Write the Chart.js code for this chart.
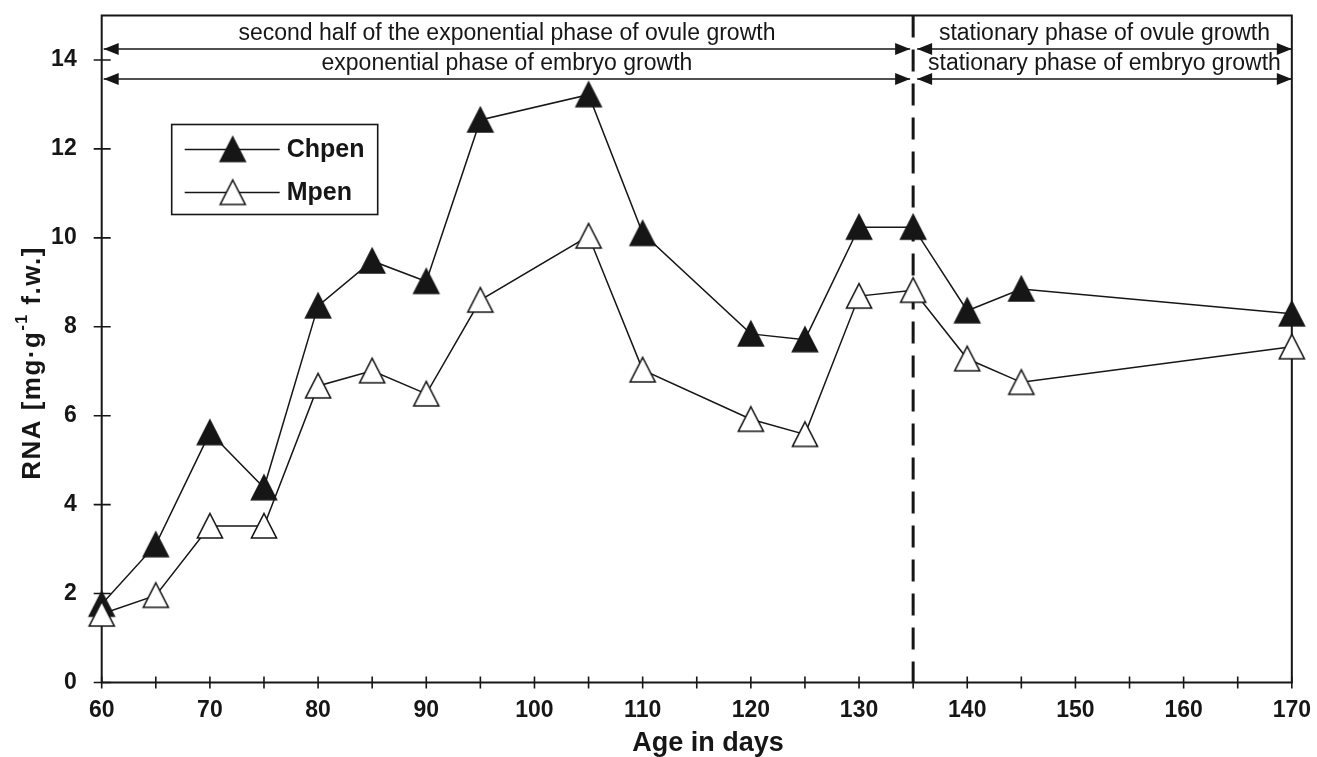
<!DOCTYPE html>
<html>
<head>
<meta charset="utf-8">
<script src="https://cdn.jsdelivr.net/npm/chart.js@4.4.1/dist/chart.umd.min.js"></script>
<style>
  html, body { margin: 0; padding: 0; background: #fff; }
</style>
</head>
<body>
<canvas id="rnaChart" width="1317" height="757"></canvas>
<script>
// Age of the seeds (days)
const days = [60, 65, 70, 75, 80, 85, 90, 95, 105, 110, 120, 125, 130, 135, 140, 145, 170];
// RNA content [mg per g f.w.]
const chpen = [1.76, 3.1, 5.62, 4.38, 8.47, 9.48, 9.02, 12.65, 13.22, 10.1, 7.84, 7.71, 10.24, 10.24, 8.36, 8.85, 8.29];
const mpen = [1.54, 1.96, 3.52, 3.52, 6.67, 7.01, 6.49, 8.6, 10.04, 7.03, 5.92, 5.58, 8.69, 8.82, 7.28, 6.75, 7.55];

// Axis ticks
const xTickValues = [60, 65, 70, 75, 80, 85, 90, 95, 100, 105, 110, 115, 120, 125, 130, 135, 140, 145, 150, 155, 160, 165, 170];
const yTickValues = [0, 2, 4, 6, 8, 10, 12, 14];

// Growth phases (boundary at day 135)
const boundaryDay = 135;
const phaseLabels = [
  'second half of the exponential phase of ovule growth',
  'exponential phase of embryo growth',
  'stationary phase of ovule growth',
  'stationary phase of embryo growth'
];
const phaseFrom = [60, 60, 135, 135];
const phaseTo = [135, 135, 170, 170];
const phaseRow = [0, 1, 0, 1];

const INK = '#161616';
const FONT = '"Liberation Sans", Arial, sans-serif';

function makeTriangle(fill) {
  const c = document.createElement('canvas');
  c.width = 30;
  c.height = 30;
  const g = c.getContext('2d');
  g.beginPath();
  g.moveTo(15, 2.5);
  g.lineTo(27.5, 27);
  g.lineTo(2.5, 27);
  g.closePath();
  g.fillStyle = fill;
  g.fill();
  g.lineWidth = 1.6;
  g.strokeStyle = INK;
  g.stroke();
  return c;
}

const filledTri = makeTriangle(INK);
const openTri = makeTriangle('#fff');

function arrowHead(ctx, x, y, dir) {
  ctx.beginPath();
  ctx.moveTo(x, y);
  ctx.lineTo(x - dir * 15, y - 6);
  ctx.lineTo(x - dir * 15, y + 6);
  ctx.closePath();
  ctx.fill();
}

// Frame, crossing tick marks, phase arrows and the dashed boundary
const backdrop = {
  id: 'backdrop',
  beforeDatasetsDraw(chart) {
    const { ctx, chartArea: a, scales: { x, y } } = chart;
    ctx.save();
    ctx.strokeStyle = INK;
    ctx.fillStyle = INK;

    const bx = x.getPixelForValue(boundaryDay);
    ctx.lineWidth = 3;
    ctx.setLineDash([22, 12]);
    ctx.beginPath();
    ctx.moveTo(bx, a.top);
    ctx.lineTo(bx, a.bottom);
    ctx.stroke();
    ctx.setLineDash([]);

    ctx.lineWidth = 2;
    ctx.strokeRect(a.left, a.top, a.right - a.left, a.bottom - a.top);

    ctx.lineWidth = 1.6;
    ctx.beginPath();
    x.ticks.forEach(t => {
      const px = x.getPixelForValue(t.value);
      ctx.moveTo(px, a.bottom - 6);
      ctx.lineTo(px, a.bottom + 6);
    });
    y.ticks.forEach(t => {
      const py = y.getPixelForValue(t.value);
      ctx.moveTo(a.left - 8, py);
      ctx.lineTo(a.left + 9, py);
    });
    ctx.stroke();

    // phase arrows
    ctx.font = '23px ' + FONT;
    ctx.textAlign = 'center';
    ctx.textBaseline = 'middle';
    phaseLabels.forEach((label, i) => {
      const rowY = a.top + 33.5 + phaseRow[i] * 30;
      const left = x.getPixelForValue(phaseFrom[i]) + (phaseFrom[i] === boundaryDay ? 4 : 2);
      const right = x.getPixelForValue(phaseTo[i]) - (phaseTo[i] === boundaryDay ? 3 : 0);
      ctx.lineWidth = 1.5;
      ctx.beginPath();
      ctx.moveTo(left, rowY);
      ctx.lineTo(right, rowY);
      ctx.stroke();
      arrowHead(ctx, left, rowY, -1);
      arrowHead(ctx, right, rowY, 1);
      ctx.fillText(label, (left + right) / 2, rowY - 15);
    });
    ctx.restore();
  },
  afterDraw(chart) {
    const { ctx, chartArea: a } = chart;
    ctx.save();
    ctx.fillStyle = INK;
    ctx.strokeStyle = INK;

    // legend box
    const lx = a.left + 70, ly = a.top + 109;
    ctx.lineWidth = 1.6;
    ctx.strokeRect(lx, ly, 206, 90);
    ctx.font = 'bold 25px ' + FONT;
    ctx.textAlign = 'left';
    ctx.textBaseline = 'middle';
    [['Chpen', filledTri], ['Mpen', openTri]].forEach(([name, img], i) => {
      const ey = ly + 25 + i * 43;
      ctx.lineWidth = 1.5;
      ctx.beginPath();
      ctx.moveTo(lx + 13, ey);
      ctx.lineTo(lx + 108, ey);
      ctx.stroke();
      ctx.drawImage(img, lx + 61 - 15, ey - 15);
      ctx.fillText(name, lx + 115, ey + 1);
    });

    // x axis title
    ctx.font = 'bold 27px ' + FONT;
    ctx.textAlign = 'center';
    ctx.fillText('Age in days', 708, 744);

    // y axis title with superscript
    ctx.translate(33, 363);
    ctx.rotate(-Math.PI / 2);
    ctx.letterSpacing = '1.5px';
    const big = 'bold 26px ' + FONT, small = 'bold 16px ' + FONT;
    const parts = [['RNA [mg·g', big, 0], ['-1', small, -10], [' f.w.]', big, 0]];
    let total = 0;
    parts.forEach(p => { ctx.font = p[1]; total += ctx.measureText(p[0]).width; });
    let cx = -total / 2;
    ctx.textAlign = 'left';
    parts.forEach(p => {
      ctx.font = p[1];
      ctx.fillText(p[0], cx, p[2]);
      cx += ctx.measureText(p[0]).width;
    });
    ctx.restore();
  }
};

const ctx = document.getElementById('rnaChart').getContext('2d');
new Chart(ctx, {
  type: 'line',
  data: {
    datasets: [
      {
        label: 'Chpen',
        data: days.map((d, i) => ({ x: d, y: chpen[i] })),
        borderColor: INK,
        borderWidth: 1.5,
        pointStyle: filledTri,
        pointRadius: 14,
        tension: 0,
        clip: false,
        order: 1
      },
      {
        label: 'Mpen',
        data: days.map((d, i) => ({ x: d, y: mpen[i] })),
        borderColor: INK,
        borderWidth: 1.5,
        pointStyle: openTri,
        pointRadius: 14,
        tension: 0,
        clip: false,
        order: 0
      }
    ]
  },
  options: {
    responsive: false,
    animation: false,
    devicePixelRatio: 1,
    events: [],
    layout: { padding: { left: 0, top: 15, right: 24, bottom: 0 } },
    plugins: {
      legend: { display: false },
      tooltip: { enabled: false }
    },
    scales: {
      x: {
        type: 'linear',
        min: 60,
        max: 170,
        afterBuildTicks: scale => { scale.ticks = xTickValues.map(v => ({ value: v })); },
        afterFit: scale => { scale.height = 74.5; },
        grid: { display: false, drawTicks: true, tickLength: 8 },
        border: { display: false },
        ticks: {
          autoSkip: false,
          maxRotation: 0,
          padding: 6,
          color: INK,
          font: { family: FONT, size: 23, weight: 'bold' },
          callback: v => (v % 10 === 0 ? String(v) : '')
        }
      },
      y: {
        min: 0,
        max: 15,
        afterBuildTicks: scale => { scale.ticks = yTickValues.map(v => ({ value: v })); },
        afterFit: scale => {
          scale.width = 101.7;
          scale.paddingTop = 0;
          scale.paddingBottom = 0;
        },
        grid: { display: false, drawTicks: true, tickLength: 8 },
        border: { display: false },
        ticks: {
          padding: 17,
          color: INK,
          font: { family: FONT, size: 23, weight: 'bold' }
        }
      }
    }
  },
  plugins: [backdrop]
});
</script>
</body>
</html>
